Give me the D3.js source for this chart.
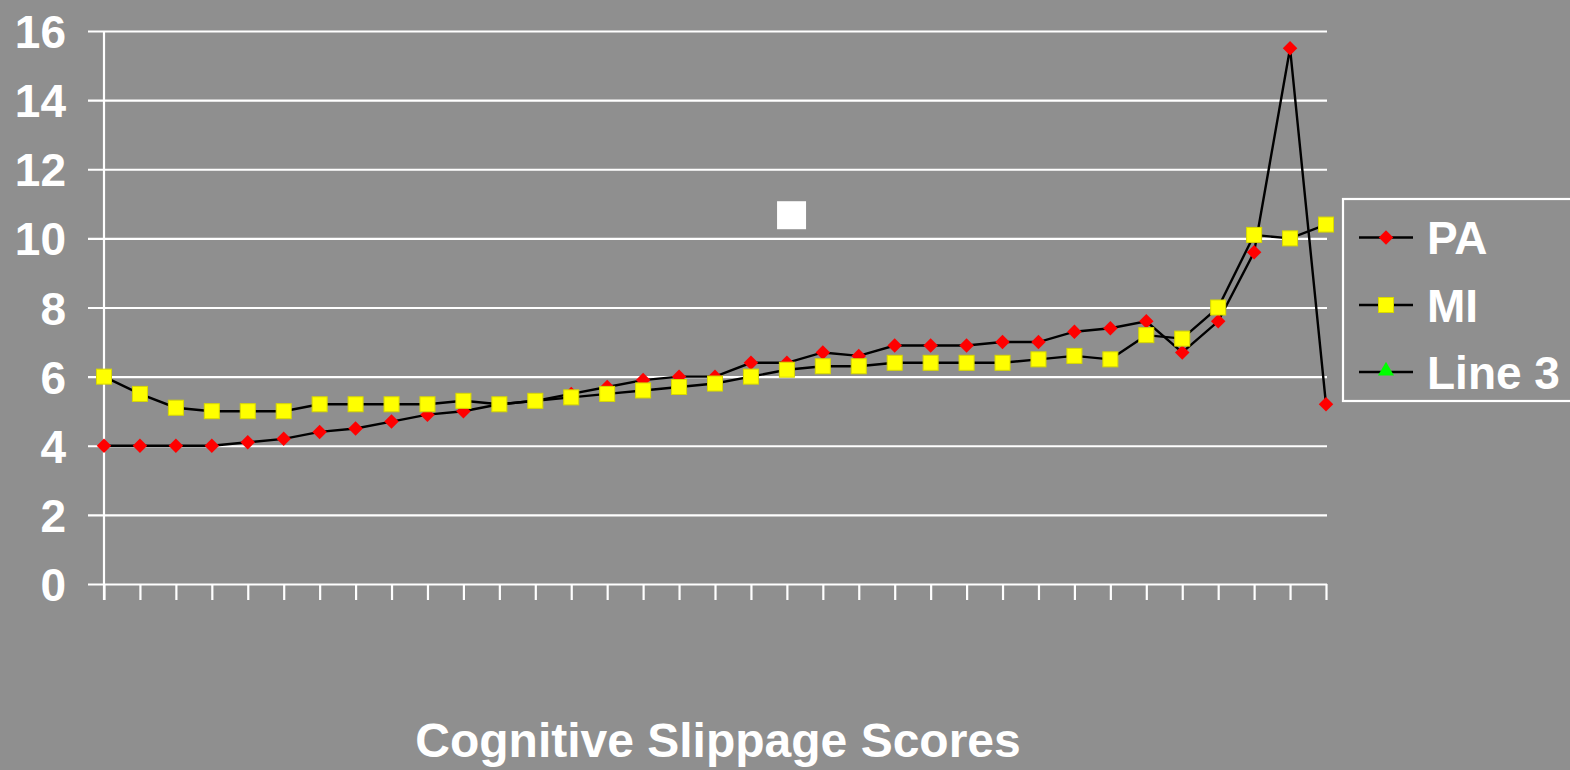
<!DOCTYPE html>
<html>
<head>
<meta charset="utf-8">
<script src="https://cdn.jsdelivr.net/npm/d3@7"></script>
<style>
  html, body { margin: 0; padding: 0; background: #8f8f8f; }
  svg { display: block; }
  text { font-family: "Liberation Sans", Arial, sans-serif; font-weight: bold; fill: #ffffff; }
</style>
</head>
<body>
<svg id="chart" width="1570" height="770"></svg>
<script>
// ---- data ----
const categories = d3.range(1, 36); // 35 unlabeled positions
const seriesNames = ["PA", "MI", "Line 3"];
const paValues = [4.0, 4.0, 4.0, 4.0, 4.1, 4.2, 4.4, 4.5, 4.7, 4.9, 5.0, 5.2, 5.3, 5.5, 5.7, 5.9, 6.0, 6.0, 6.4, 6.4,
                  6.7, 6.6, 6.9, 6.9, 6.9, 7.0, 7.0, 7.3, 7.4, 7.6, 6.7, 7.6, 9.6, 15.5, 5.2];
const miValues = [6.0, 5.5, 5.1, 5.0, 5.0, 5.0, 5.2, 5.2, 5.2, 5.2, 5.3, 5.2, 5.3, 5.4, 5.5, 5.6, 5.7, 5.8, 6.0, 6.2,
                  6.3, 6.3, 6.4, 6.4, 6.4, 6.4, 6.5, 6.6, 6.5, 7.2, 7.1, 8.0, 10.1, 10.0, 10.4];
const yTicks = [0, 2, 4, 6, 8, 10, 12, 14, 16];
const xTitle = "Cognitive Slippage Scores";
const strayMark = [{ i: 19.13, v: 10.67 }]; // white square artifact in the original

// ---- layout ----
const svg = d3.select("#chart");
const W = 1570, H = 770;
const plot = { left: 104, right: 1326, top: 31, bottom: 584 };

const x = d3.scaleLinear().domain([0, categories.length - 1]).range([plot.left, plot.right]);
const y = d3.scaleLinear().domain([0, 16]).range([plot.bottom, plot.top]);

svg.append("rect").attr("width", W).attr("height", H).attr("fill", "#8f8f8f");

// gridlines + y axis
const yAxis = d3.axisLeft(y).tickValues(yTicks).tickSize(-(plot.right - plot.left + 1)).tickPadding(38).tickSizeOuter(0);
const gy = svg.append("g").attr("transform", `translate(${plot.left},0)`).call(yAxis);
gy.select(".domain").remove();
gy.selectAll(".tick line").attr("x1", -16).attr("stroke", "#ffffff").attr("stroke-width", 2.2);
gy.selectAll(".tick text").attr("font-size", 46).attr("dy", "0.36em")
  .style("font-family", '"Liberation Sans", Arial, sans-serif').style("font-weight", "bold").attr("fill", "#fff");

// vertical axis line
svg.append("line").attr("x1", plot.left).attr("x2", plot.left).attr("y1", plot.top).attr("y2", plot.bottom + 16)
  .attr("stroke", "#fff").attr("stroke-width", 2.2);

// x axis ticks
const xAxis = d3.axisBottom(x).tickValues(d3.range(categories.length)).tickSize(16).tickFormat("").tickSizeOuter(0);
const gx = svg.append("g").attr("transform", `translate(0,${plot.bottom})`).call(xAxis);
gx.select(".domain").remove();
gx.selectAll(".tick line").attr("stroke", "#fff").attr("stroke-width", 2.2);

// lines
const line = d3.line().x((d, i) => x(i)).y(d => y(d));
svg.append("path").datum(miValues).attr("d", line).attr("fill", "none").attr("stroke", "#000").attr("stroke-width", 2.4);
svg.append("path").datum(paValues).attr("d", line).attr("fill", "none").attr("stroke", "#000").attr("stroke-width", 2.4);

const diamond = d3.symbol().type(d3.symbolSquare).size(105);
const sq = 15;

// PA diamonds
svg.append("g").selectAll("path").data(paValues).join("path")
  .attr("d", diamond)
  .attr("transform", (d, i) => `translate(${x(i)},${y(d)}) rotate(45)`)
  .attr("fill", "#ff0000");

// MI squares
svg.append("g").selectAll("rect").data(miValues).join("rect")
  .attr("x", (d, i) => x(i) - sq / 2).attr("y", d => y(d) - sq / 2)
  .attr("width", sq).attr("height", sq)
  .attr("fill", "#ffff00").attr("stroke", "#d8d800").attr("stroke-width", 1);

// stray white square
svg.append("g").selectAll("rect").data(strayMark).join("rect")
  .attr("x", d => x(d.i) - 14.5).attr("y", d => y(d.v) - 14)
  .attr("width", 29).attr("height", 28).attr("fill", "#fff");

// x title
svg.append("text").attr("x", (plot.left + plot.right) / 2 + 3).attr("y", 757)
  .attr("text-anchor", "middle").attr("font-size", 48).text(xTitle);

// legend
const lg = svg.append("g").attr("transform", "translate(1343,199)");
lg.append("rect").attr("width", 260).attr("height", 202).attr("fill", "none").attr("stroke", "#fff").attr("stroke-width", 2.2);
const rows = [38.5, 106, 173];
seriesNames.forEach((name, k) => {
  const ry = rows[k];
  const r = lg.append("g").attr("transform", `translate(0,${ry})`);
  r.append("line").attr("x1", 16).attr("x2", 70).attr("y1", 0).attr("y2", 0).attr("stroke", "#000").attr("stroke-width", 2.4);
  if (k === 0) {
    r.append("path").attr("d", diamond).attr("transform", "translate(43,0) rotate(45)").attr("fill", "#ff0000");
  } else if (k === 1) {
    r.append("rect").attr("x", 43 - 7.5).attr("y", -7.5).attr("width", 15).attr("height", 15)
      .attr("fill", "#ffff00").attr("stroke", "#d8d800");
  } else {
    r.append("path").attr("d", d3.symbol().type(d3.symbolTriangle).size(110)).attr("transform", "translate(43,-1)").attr("fill", "#00ff00");
  }
  r.append("text").attr("x", 84).attr("y", 0).attr("dy", "0.36em").attr("font-size", 46).text(name);
});
</script>
</body>
</html>
